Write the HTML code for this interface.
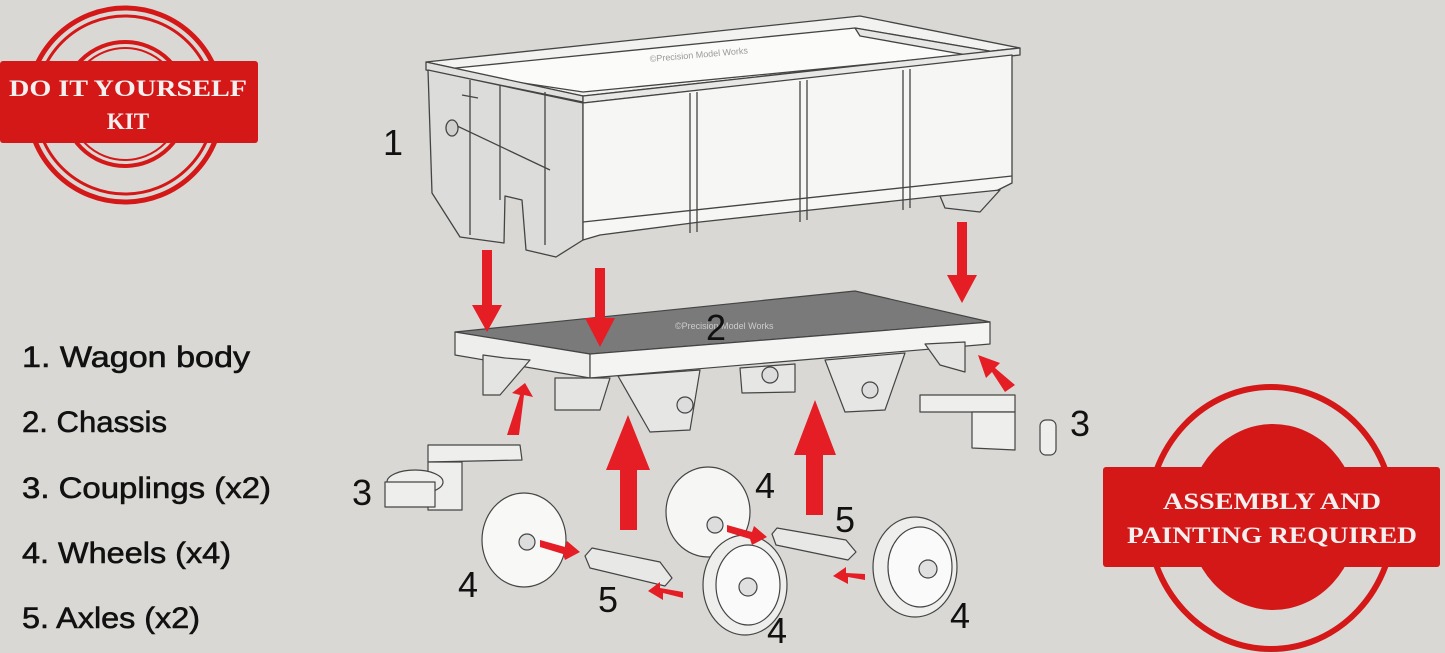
<!DOCTYPE html>
<html><head><meta charset="utf-8"><style>
html,body{margin:0;padding:0;background:#d9d8d4;}
svg{display:block}
.lg{font-family:"Liberation Sans",sans-serif;font-size:30px;fill:#111;stroke:#111;stroke-width:0.6;}
.num{font-family:"Liberation Sans",sans-serif;font-size:36px;fill:#111;}
.st{font-family:"Liberation Serif",serif;font-weight:bold;fill:#f4f0f0;}
</style></head><body>
<svg width="1445" height="653" viewBox="0 0 1445 653" xmlns="http://www.w3.org/2000/svg">
<rect width="1445" height="653" fill="#d9d8d4"/>
<!-- stamp TL -->
<g fill="none" stroke="#d41818">
<circle cx="125" cy="105" r="97" stroke-width="5"/>
<circle cx="125" cy="105" r="89" stroke-width="3"/>
<circle cx="125" cy="104" r="62" stroke-width="4"/>
<circle cx="125" cy="104" r="56" stroke-width="2"/>
</g>
<rect x="0" y="61" width="258" height="82" rx="3" fill="#d41818"/>
<text class="st" x="128" y="96" font-size="23" text-anchor="middle" textLength="238" lengthAdjust="spacingAndGlyphs">DO IT YOURSELF</text>
<text class="st" x="128" y="129" font-size="23" text-anchor="middle">KIT</text>
<!-- stamp BR -->
<ellipse cx="1271" cy="518" rx="123" ry="131" fill="none" stroke="#d41818" stroke-width="6"/>
<ellipse cx="1273" cy="517" rx="85" ry="93" fill="#d41818"/>
<rect x="1103" y="467" width="337" height="100" rx="3" fill="#d41818"/>
<text class="st" x="1272" y="509" font-size="23" text-anchor="middle" textLength="218" lengthAdjust="spacingAndGlyphs">ASSEMBLY AND</text>
<text class="st" x="1272" y="543" font-size="23" text-anchor="middle" textLength="290" lengthAdjust="spacingAndGlyphs">PAINTING REQUIRED</text>
<!-- legend -->
<text class="lg" x="22" y="367" textLength="228" lengthAdjust="spacingAndGlyphs">1. Wagon body</text>
<text class="lg" x="22" y="432" textLength="145" lengthAdjust="spacingAndGlyphs">2. Chassis</text>
<text class="lg" x="22" y="498" textLength="249" lengthAdjust="spacingAndGlyphs">3. Couplings (x2)</text>
<text class="lg" x="22" y="563" textLength="209" lengthAdjust="spacingAndGlyphs">4. Wheels (x4)</text>
<text class="lg" x="22" y="628" textLength="178" lengthAdjust="spacingAndGlyphs">5. Axles (x2)</text>
<!-- wagon body -->
<g stroke="#444" stroke-width="1.3" stroke-linejoin="round">
<polygon points="426,62 860,16 1020,48 583,96" fill="#f2f2f0"/>
<polygon points="436,70 855,28 995,52 583,92" fill="#fbfbfa"/>
<polygon points="855,28 995,52 995,60 860,36" fill="#e6e6e4"/>
<polygon points="426,62 583,96 583,102 426,70" fill="#e0e0de"/>
<polygon points="583,96 1020,48 1020,55 583,103" fill="#e8e8e6"/>
<polygon points="428,70 583,103 583,240 556,257 526,250 522,200 505,196 504,243 460,237 432,193" fill="#dcdcda"/>
<polygon points="583,103 1012,55 1012,183 990,194 940,196 700,222 600,235 583,240" fill="#f6f6f4"/>
<polygon points="940,196 1000,190 980,212 945,208" fill="#dcdcda"/>
<line x1="690" y1="93" x2="690" y2="233"/><line x1="697" y1="92" x2="697" y2="232"/>
<line x1="800" y1="81" x2="800" y2="222"/><line x1="807" y1="80" x2="807" y2="220"/>
<line x1="903" y1="70" x2="903" y2="210"/><line x1="910" y1="69" x2="910" y2="208"/>
<line x1="583" y1="222" x2="1012" y2="176"/>
<line x1="462" y1="95" x2="478" y2="98"/>
<line x1="455" y1="125" x2="550" y2="170"/>
<line x1="470" y1="80" x2="470" y2="235"/><line x1="500" y1="85" x2="500" y2="200"/><line x1="545" y1="92" x2="545" y2="245"/>
<ellipse cx="452" cy="128" rx="6" ry="8" fill="#cfcfcd"/>
</g>
<text x="650" y="62" font-family="Liberation Sans,sans-serif" font-size="9" fill="#999" transform="rotate(-5 650 62)">©Precision Model Works</text>
<!-- chassis -->
<g stroke="#444" stroke-width="1.2" stroke-linejoin="round">
<polygon points="455,332 855,291 990,322 590,354" fill="#7a7a7a"/>
<polygon points="455,332 590,354 590,378 455,355" fill="#eeeeec"/>
<polygon points="590,354 990,322 990,344 590,378" fill="#f4f4f2"/>
<polygon points="483,355 505,358 530,360 500,395 483,395" fill="#e4e4e2"/>
<polygon points="555,378 580,378 610,378 600,410 555,410" fill="#e4e4e2"/>
<polygon points="618,376 700,370 690,430 650,432" fill="#e6e6e4"/>
<polygon points="740,368 795,364 795,392 742,393" fill="#e6e6e4"/>
<polygon points="825,360 905,353 885,410 845,412" fill="#e6e6e4"/>
<polygon points="925,344 965,342 965,372 940,365" fill="#e4e4e2"/>
<circle cx="685" cy="405" r="8" fill="#ddd"/><circle cx="870" cy="390" r="8" fill="#ddd"/><circle cx="770" cy="375" r="8" fill="#ddd"/>
</g>
<text x="675" y="329" font-family="Liberation Sans,sans-serif" font-size="9" fill="#ccc">©Precision Model Works</text>
<!-- couplings -->
<g stroke="#444" stroke-width="1.2" fill="#eeeeec" stroke-linejoin="round">
<polygon points="428,445 520,445 522,460 428,462"/>
<polygon points="428,462 462,462 462,510 428,510"/>
<ellipse cx="415" cy="482" rx="28" ry="12"/>
<rect x="385" y="482" width="50" height="25"/>
<polygon points="920,395 1015,395 1015,412 920,412"/>
<polygon points="972,412 1015,412 1015,450 972,448"/>
<rect x="1040" y="420" width="16" height="35" rx="6"/>
</g>
<!-- wheels -->
<g stroke="#444" stroke-width="1.2" stroke-linejoin="round">
<ellipse cx="524" cy="540" rx="42" ry="47" fill="#f8f8f6"/><circle cx="527" cy="542" r="8" fill="#ddd"/>
<ellipse cx="708" cy="512" rx="42" ry="45" fill="#f6f6f4"/><circle cx="715" cy="525" r="8" fill="#ddd"/>
<ellipse cx="745" cy="585" rx="42" ry="50" fill="#eeeeec"/><ellipse cx="748" cy="585" rx="32" ry="40" fill="#fafafa"/><circle cx="748" cy="587" r="9" fill="#e0e0e0"/>
<ellipse cx="915" cy="567" rx="42" ry="50" fill="#eeeeec"/><ellipse cx="920" cy="567" rx="32" ry="40" fill="#fafafa"/><circle cx="928" cy="569" r="9" fill="#e0e0e0"/>
<polygon points="592,548 660,562 672,578 665,586 590,568 585,556" fill="#e8e8e6"/>
<polygon points="777,528 846,540 856,552 848,560 776,545 772,534" fill="#e8e8e6"/>
</g>
<!-- arrows -->
<g fill="#e51d24">
<polygon points="482,250 492,250 492,305 502,305 487,332 472,305 482,305"/>
<polygon points="595,268 605,268 605,318 615,318 600,347 585,318 595,318"/>
<polygon points="957,222 967,222 967,275 977,275 962,303 947,275 957,275"/>
<polygon points="620,530 637,530 637,470 650,470 628,415 606,470 620,470"/>
<polygon points="806,515 823,515 823,455 836,455 815,400 794,455 806,455"/>
<polygon points="507,435 519,435 524,395 533,397 525,383 512,393 520,395"/>
<polygon points="1015,385 1005,392 992,372 986,378 978,355 1000,363 995,368"/>
<polygon points="540,540 565,547 567,541 580,552 565,560 563,554 540,547"/>
<polygon points="727,525 752,532 754,526 767,537 752,545 750,539 727,532"/>
<polygon points="683,598 663,593 663,600 648,591 660,582 660,588 683,592"/>
<polygon points="865,580 848,577 848,584 833,576 846,567 846,573 865,574"/>
</g>
<!-- numbers -->
<text class="num" x="383" y="155">1</text>
<text class="num" x="706" y="340">2</text>
<text class="num" x="352" y="505">3</text>
<text class="num" x="1070" y="436">3</text>
<text class="num" x="458" y="597">4</text>
<text class="num" x="755" y="498">4</text>
<text class="num" x="767" y="643">4</text>
<text class="num" x="950" y="628">4</text>
<text class="num" x="598" y="612">5</text>
<text class="num" x="835" y="532">5</text>
</svg>
</body></html>
